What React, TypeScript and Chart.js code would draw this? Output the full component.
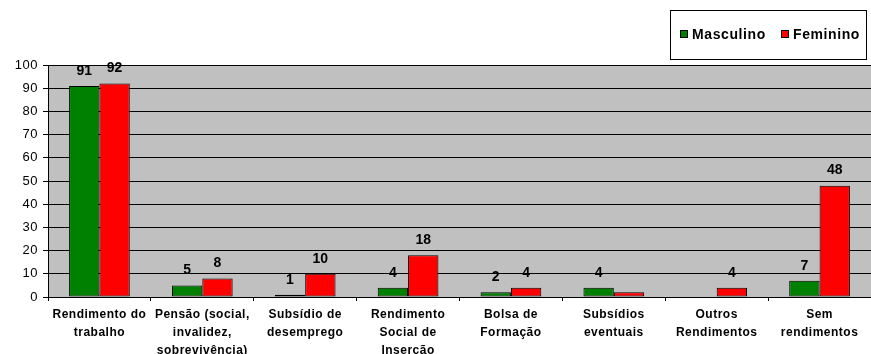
import React, { useEffect, useRef } from "react";
import { Chart, registerables } from "chart.js";

Chart.register(...registerables);

const categories: string[][] = [
  ["Rendimento do", "trabalho"],
  ["Pensão (social,", "invalidez,", "sobrevivência)"],
  ["Subsídio de", "desemprego"],
  ["Rendimento", "Social de", "Inserção"],
  ["Bolsa de", "Formação"],
  ["Subsídios", "eventuais"],
  ["Outros", "Rendimentos"],
  ["Sem", "rendimentos"],
];

const masculino: number[] = [91, 5, 1, 4, 2, 4, 0, 7];
const feminino: number[] = [92, 8, 10, 18, 4, 2, 4, 48];

const masculinoLabels: (string | null)[] = ["91", "5", "1", "4", "2", "4", null, "7"];
const femininoLabels: (string | null)[] = ["92", "8", "10", "18", "4", null, "4", "48"];

const seriesNames: string[] = ["Masculino", "Feminino"];
const seriesColors: string[] = ["#008000", "#FF0000"];

const yTicks = { min: 0, max: 100, step: 10 };

const FONT = "'Liberation Sans', Arial, sans-serif";

export default function App() {
  const ref = useRef<HTMLCanvasElement | null>(null);

  useEffect(() => {
    document.body.style.margin = "0";
    const canvas = ref.current;
    if (!canvas) return;

    const bgPlugin = {
      id: "plotBg",
      beforeDraw(chart: any) {
        const { ctx, chartArea } = chart;
        ctx.save();
        ctx.fillStyle = "#C0C0C0";
        ctx.fillRect(chartArea.left, chartArea.top, chartArea.right - chartArea.left, chartArea.bottom - chartArea.top);
        ctx.restore();
        (ctx as any).letterSpacing = "0.5px";
      },
    };

    const labelPlugin = {
      id: "barLabels",
      afterDatasetsDraw(chart: any) {
        const { ctx } = chart;
        const labelSets = [masculinoLabels, femininoLabels];
        ctx.save();
        (ctx as any).letterSpacing = "0px";
        ctx.font = `bold 14px ${FONT}`;
        ctx.fillStyle = "#000";
        ctx.textAlign = "center";
        ctx.textBaseline = "middle";
        chart.data.datasets.forEach((_ds: any, di: number) => {
          const meta = chart.getDatasetMeta(di);
          meta.data.forEach((bar: any, i: number) => {
            const txt = labelSets[di][i];
            if (txt == null) return;
            ctx.fillText(txt, bar.x, bar.y - 15);
          });
        });
        ctx.restore();
      },
    };

    const legendPlugin = {
      id: "boxLegend",
      afterDraw(chart: any) {
        const { ctx } = chart;
        ctx.save();
        const bx = 670.5, by = 10.5, bw = 196, bh = 49;
        ctx.fillStyle = "#FFFFFF";
        ctx.fillRect(bx, by, bw, bh);
        ctx.strokeStyle = "#000";
        ctx.lineWidth = 1;
        ctx.strokeRect(bx, by, bw, bh);
        (ctx as any).letterSpacing = "0.6px";
        ctx.font = `bold 14px ${FONT}`;
        ctx.textBaseline = "middle";
        ctx.textAlign = "left";
        const items = [
          { sx: 680, tx: 692 },
          { sx: 781, tx: 793 },
        ];
        items.forEach((it, i) => {
          ctx.fillStyle = seriesColors[i];
          ctx.fillRect(it.sx + 0.5, 30.5, 7, 7);
          ctx.strokeStyle = "#000";
          ctx.strokeRect(it.sx + 0.5, 30.5, 7, 7);
          ctx.fillStyle = "#000";
          ctx.fillText(seriesNames[i], it.tx, 35);
        });
        ctx.restore();
      },
    };

    const chart = new Chart(canvas, {
      type: "bar",
      data: {
        labels: categories,
        datasets: [
          {
            label: seriesNames[0],
            data: masculino,
            backgroundColor: seriesColors[0],
            borderColor: "#000",
            borderWidth: 1,
            borderSkipped: false,
            categoryPercentage: 0.59,
            barPercentage: 1,
          },
          {
            label: seriesNames[1],
            data: feminino,
            backgroundColor: seriesColors[1],
            borderColor: "#000",
            borderWidth: 1,
            borderSkipped: false,
            categoryPercentage: 0.59,
            barPercentage: 1,
          },
        ],
      },
      options: {
        responsive: false,
        animation: false,
        devicePixelRatio: 1,
        layout: { padding: { top: 65, right: 0, left: 0, bottom: 0 } },
        plugins: {
          legend: { display: false },
          tooltip: { enabled: false },
        },
        scales: {
          x: {
            grid: {
              display: true,
              drawOnChartArea: false,
              drawTicks: true,
              tickLength: 4,
              color: "#000",
              offset: true,
            },
            border: { display: true, color: "#000", width: 1 },
            ticks: {
              color: "#000",
              font: { family: FONT, size: 12, weight: "bold", lineHeight: 1.5 },
              padding: 5,
              maxRotation: 0,
              autoSkip: false,
            },
            afterFit(scale: any) {
              scale.height = 57;
            },
          },
          y: {
            min: yTicks.min,
            max: yTicks.max,
            grid: {
              color: "#000",
              drawTicks: true,
              tickLength: 5,
            },
            border: { display: true, color: "#000", width: 1 },
            ticks: {
              stepSize: yTicks.step,
              color: "#000",
              font: { family: FONT, size: 13 },
              padding: 5,
            },
            afterFit(scale: any) {
              scale.width = 48;
            },
          },
        },
      },
      plugins: [bgPlugin, labelPlugin, legendPlugin],
    });

    return () => {
      chart.destroy();
    };
  }, []);

  return (
    <div style={{ position: "absolute", left: 0, top: 0, width: 871, height: 354 }}>
      <canvas ref={ref} width={871} height={354} />
    </div>
  );
}
